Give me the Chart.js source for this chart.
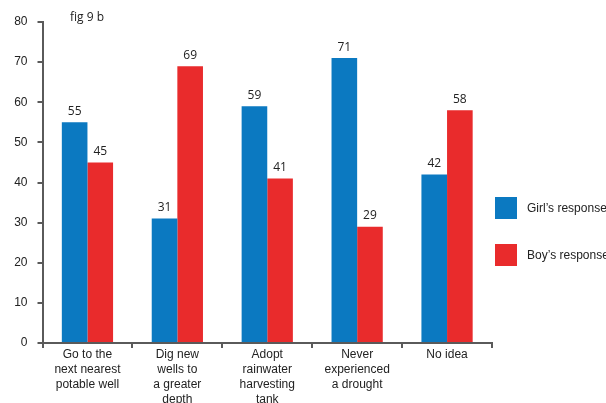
<!DOCTYPE html>
<html>
<head>
<meta charset="utf-8">
<script src="https://cdn.jsdelivr.net/npm/chart.js@4.4.0/dist/chart.umd.min.js"></script>
<style>
  html, body { margin: 0; padding: 0; background: #fff; overflow: hidden; }
  #wrap { width: 606px; height: 403px; }
</style>
</head>
<body>
<div id="wrap"><canvas id="chart" width="606" height="403"></canvas></div>
<script>
const categories = [
  ["Go to the", "next nearest", "potable well"],
  ["Dig new", "wells to", "a greater", "depth"],
  ["Adopt", "rainwater", "harvesting", "tank"],
  ["Never", "experienced", "a drought"],
  ["No idea"],
];
const girls = [55, 31, 59, 71, 42];
const boys = [45, 69, 41, 29, 58];
const yTicks = [0, 10, 20, 30, 40, 50, 60, 70, 80];
const seriesNames = ["Girl\u2019s response", "Boy\u2019s response"];

const BLUE = "#0b79c1";
const RED = "#e92b2c";
const AXIS = "#5a5a5a";

// value labels above each bar
const valueLabels = {
  id: "valueLabels",
  afterDatasetsDraw(chart) {
    const ctx = chart.ctx;
    ctx.save();
    ctx.font = "12px 'Open Sans', sans-serif";
    ctx.fillStyle = "#222";
    ctx.textAlign = "center";
    ctx.textBaseline = "bottom";
    chart.data.datasets.forEach((ds, i) => {
      chart.getDatasetMeta(i).data.forEach((bar, j) => {
        ctx.fillText(ds.data[j], bar.x, bar.y - 5);
      });
    });
    ctx.restore();
  },
};

// side legend + figure caption
const sideLegend = {
  id: "sideLegend",
  afterDraw(chart) {
    const ctx = chart.ctx;
    ctx.save();
    ctx.font = "12px 'Open Sans', sans-serif";
    ctx.fillStyle = "#222";
    ctx.textBaseline = "middle";
    ctx.fillText("fig 9 b", 70, 18);

    ctx.font = "12px 'Liberation Sans', Arial, sans-serif";
    chart.data.datasets.forEach((ds, i) => {
      const y = 197 + i * 47;
      ctx.fillStyle = ds.backgroundColor;
      ctx.fillRect(495, y, 22, 22);
      ctx.fillStyle = "#222";
      ctx.fillText(ds.label, 527, y + 12);
    });
    ctx.restore();
  },
};

new Chart(document.getElementById("chart"), {
  type: "bar",
  data: {
    labels: categories,
    datasets: [
      { label: seriesNames[0], data: girls, backgroundColor: BLUE },
      { label: seriesNames[1], data: boys, backgroundColor: RED },
    ],
  },
  options: {
    responsive: false,
    animation: false,
    layout: { padding: { left: 0, top: 22, right: 114, bottom: 0 } },
    datasets: { bar: { categoryPercentage: 0.57, barPercentage: 1 } },
    plugins: { legend: { display: false }, tooltip: { enabled: false } },
    scales: {
      x: {
        afterFit(scale) { scale.height = 60; },
        grid: { display: true, drawOnChartArea: false, offset: true, tickLength: 5, color: AXIS, lineWidth: 2 },
        border: { color: AXIS, width: 2 },
        ticks: {
          color: "#222",
          padding: -1,
          maxRotation: 0,
          autoSkip: false,
          font: { family: "'Liberation Sans', Arial, sans-serif", size: 12, lineHeight: 1.25 },
        },
      },
      y: {
        min: 0,
        max: 80,
        afterFit(scale) { scale.width = 42.5; },
        afterBuildTicks(scale) { scale.ticks = yTicks.map((v) => ({ value: v })); },
        grid: { display: true, drawOnChartArea: false, tickLength: 5, color: AXIS, lineWidth: 2 },
        border: { color: AXIS, width: 2 },
        ticks: {
          color: "#222",
          padding: 10,
          font: { family: "'Liberation Sans', Arial, sans-serif", size: 12 },
        },
      },
    },
  },
  plugins: [valueLabels, sideLegend],
});
</script>
</body>
</html>
